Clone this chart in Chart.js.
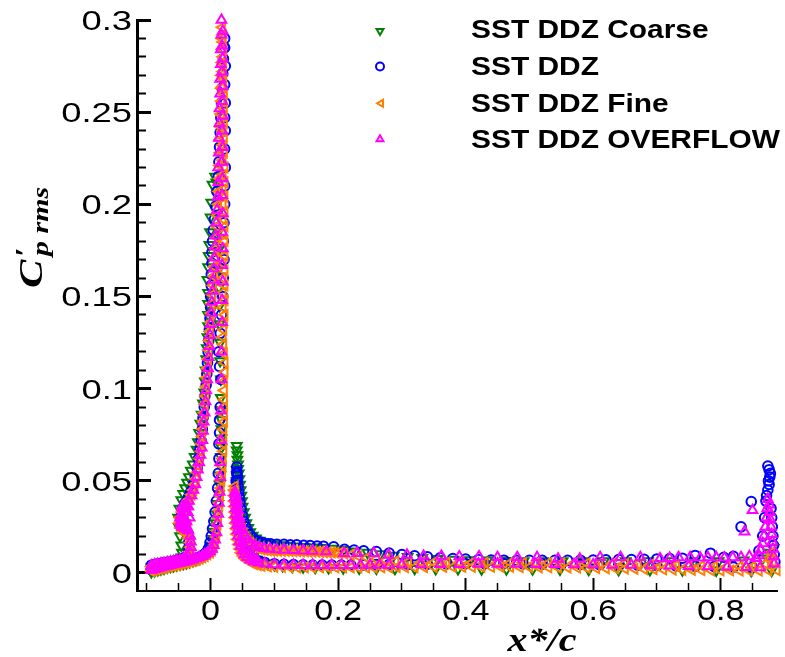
<!DOCTYPE html>
<html><head><meta charset="utf-8">
<script src="https://cdn.jsdelivr.net/npm/chart.js@4.4.1/dist/chart.umd.min.js"></script>
<style>html,body{margin:0;padding:0;background:#fff;}canvas{display:block;}</style>
</head><body>
<canvas id="c" width="785" height="657"></canvas>
<script>
// ---------------- DATA (x*/c , Cp' rms) ----------------
const seriesNames = ['SST DDZ Coarse', 'SST DDZ', 'SST DDZ Fine', 'SST DDZ OVERFLOW'];
const xTickLabels = ['0', '0.2', '0.4', '0.6', '0.8'];
const yTickLabels = ['0', '0.05', '0.1', '0.15', '0.2', '0.25', '0.3'];

// SST DDZ Coarse
const coarseSlatUpper = [[-0.093,0.0030],[-0.088,0.0035],[-0.083,0.0040],[-0.078,0.0044],[-0.073,0.0048],[-0.068,0.0052],[-0.063,0.0056],[-0.058,0.0060],[-0.053,0.0065],[-0.049,0.0072],[-0.046,0.0085],[-0.045,0.0110],[-0.046,0.0150],[-0.048,0.0200],[-0.050,0.0250],[-0.051,0.0300],[-0.049,0.0350],[-0.046,0.0395],[-0.043,0.0430],[-0.040,0.0460],[-0.037,0.0490],[-0.034,0.0520],[-0.031,0.0555],[-0.028,0.0590],[-0.025,0.0630],[-0.022,0.0670],[-0.020,0.0710],[-0.018,0.0760],[-0.016,0.0810],[-0.014,0.0860],[-0.012,0.0920],[-0.010,0.0980],[-0.009,0.1040],[-0.008,0.1100],[-0.007,0.1160],[-0.006,0.1220],[-0.005,0.1280],[-0.004,0.1340],[-0.004,0.1400],[-0.004,0.1460],[-0.004,0.1520],[-0.005,0.1590],[-0.004,0.1660],[-0.003,0.1720],[-0.002,0.1780],[-0.001,0.1850],[0.000,0.1930],[0.001,0.2010],[0.003,0.2107],[0.007,0.2150]];
const coarseSlatLower = [[-0.093,0.0005],[-0.088,0.0010],[-0.083,0.0015],[-0.078,0.0020],[-0.073,0.0025],[-0.068,0.0030],[-0.063,0.0034],[-0.058,0.0038],[-0.053,0.0042],[-0.048,0.0046],[-0.043,0.0050],[-0.038,0.0055],[-0.033,0.0060],[-0.028,0.0065],[-0.023,0.0071],[-0.018,0.0078],[-0.013,0.0086],[-0.009,0.0096],[-0.005,0.0108],[-0.002,0.0125],[0.001,0.0150],[0.004,0.0185],[0.006,0.0225],[0.008,0.0270],[0.010,0.0320],[0.012,0.0375],[0.013,0.0430],[0.014,0.0480],[0.015,0.0530],[0.016,0.0580],[0.016,0.0630],[0.017,0.0680],[0.017,0.0730],[0.017,0.0780],[0.017,0.0830],[0.017,0.0885],[0.016,0.0950],[0.016,0.1050],[0.015,0.1150],[0.015,0.1250],[0.014,0.1350],[0.014,0.1450],[0.013,0.1550],[0.013,0.1650],[0.012,0.1750],[0.012,0.1850],[0.011,0.1950],[0.010,0.2050],[0.009,0.2120]];
const coarseMainUpper = [[0.041,0.0690],[0.041,0.0665],[0.042,0.0640],[0.042,0.0615],[0.043,0.0590],[0.043,0.0565],[0.044,0.0540],[0.045,0.0510],[0.046,0.0480],[0.047,0.0450],[0.048,0.0420],[0.049,0.0390],[0.050,0.0360],[0.052,0.0330],[0.054,0.0300],[0.056,0.0270],[0.059,0.0245],[0.062,0.0222],[0.066,0.0203],[0.071,0.0188],[0.077,0.0176],[0.084,0.0167],[0.092,0.0160],[0.101,0.0155],[0.111,0.0151],[0.122,0.0148],[0.134,0.0145],[0.147,0.0142],[0.161,0.0139],[0.176,0.0136],[0.192,0.0132],[0.209,0.0126],[0.227,0.0118],[0.246,0.0110],[0.266,0.0102],[0.287,0.0095],[0.309,0.0088],[0.332,0.0082],[0.356,0.0077],[0.381,0.0073],[0.407,0.0070],[0.434,0.0068],[0.462,0.0066],[0.491,0.0065],[0.521,0.0064],[0.552,0.0064],[0.584,0.0064],[0.617,0.0064],[0.651,0.0064],[0.686,0.0064],[0.722,0.0064],[0.759,0.0064],[0.797,0.0065],[0.836,0.0068],[0.866,0.0080],[0.878,0.0110],[0.883,0.0136]];
const coarseMainLower = [[0.041,0.0560],[0.041,0.0530],[0.041,0.0500],[0.041,0.0470],[0.042,0.0440],[0.042,0.0410],[0.043,0.0380],[0.043,0.0350],[0.044,0.0320],[0.045,0.0290],[0.046,0.0260],[0.048,0.0230],[0.050,0.0200],[0.052,0.0172],[0.055,0.0146],[0.058,0.0124],[0.062,0.0104],[0.067,0.0087],[0.073,0.0072],[0.080,0.0060],[0.089,0.0050],[0.100,0.0043],[0.113,0.0038],[0.128,0.0034],[0.145,0.0031],[0.164,0.0029],[0.185,0.0027],[0.208,0.0026],[0.233,0.0025],[0.260,0.0024],[0.289,0.0023],[0.320,0.0023],[0.353,0.0022],[0.388,0.0022],[0.425,0.0021],[0.464,0.0021],[0.505,0.0020],[0.548,0.0019],[0.593,0.0018],[0.640,0.0017],[0.689,0.0016],[0.740,0.0015],[0.793,0.0014],[0.848,0.0013],[0.880,0.0013]];

// SST DDZ
const ddzSlatUpper = [[-0.093,0.0042],[-0.088,0.0046],[-0.083,0.0049],[-0.078,0.0052],[-0.073,0.0055],[-0.068,0.0058],[-0.063,0.0061],[-0.058,0.0064],[-0.053,0.0068],[-0.048,0.0073],[-0.043,0.0079],[-0.039,0.0086],[-0.036,0.0100],[-0.034,0.0130],[-0.034,0.0170],[-0.036,0.0210],[-0.040,0.0240],[-0.044,0.0270],[-0.046,0.0310],[-0.044,0.0350],[-0.040,0.0380],[-0.035,0.0410],[-0.031,0.0440],[-0.027,0.0480],[-0.024,0.0520],[-0.021,0.0570],[-0.019,0.0620],[-0.017,0.0670],[-0.015,0.0720],[-0.013,0.0780],[-0.012,0.0840],[-0.010,0.0900],[-0.009,0.0960],[-0.007,0.1020],[-0.006,0.1080],[-0.005,0.1140],[-0.004,0.1200],[-0.003,0.1260],[-0.002,0.1320],[-0.001,0.1380],[0.000,0.1440],[0.000,0.1500],[0.001,0.1560],[0.001,0.1620],[0.002,0.1680],[0.002,0.1740],[0.003,0.1800],[0.004,0.1860],[0.006,0.1920],[0.008,0.1990],[0.010,0.2070],[0.012,0.2150],[0.013,0.2230],[0.014,0.2310],[0.015,0.2390],[0.016,0.2470],[0.017,0.2550],[0.018,0.2630],[0.019,0.2710],[0.020,0.2790],[0.021,0.2850],[0.022,0.2900]];
const ddzSlatLower = [[-0.093,0.0018],[-0.088,0.0022],[-0.083,0.0026],[-0.078,0.0030],[-0.073,0.0034],[-0.068,0.0038],[-0.063,0.0042],[-0.058,0.0046],[-0.053,0.0050],[-0.048,0.0054],[-0.043,0.0058],[-0.038,0.0063],[-0.033,0.0068],[-0.028,0.0073],[-0.023,0.0079],[-0.018,0.0086],[-0.013,0.0094],[-0.009,0.0104],[-0.006,0.0116],[-0.003,0.0135],[-0.001,0.0165],[0.001,0.0200],[0.003,0.0240],[0.005,0.0280],[0.007,0.0330],[0.009,0.0390],[0.011,0.0460],[0.012,0.0540],[0.013,0.0620],[0.013,0.0700],[0.014,0.0760],[0.014,0.0830],[0.015,0.0900],[0.016,0.1050],[0.014,0.1120],[0.013,0.1200],[0.015,0.1300],[0.017,0.1400],[0.019,0.1500],[0.020,0.1600],[0.021,0.1700],[0.020,0.1800],[0.021,0.1900],[0.022,0.2000],[0.022,0.2100],[0.023,0.2200],[0.022,0.2300],[0.023,0.2400],[0.022,0.2470],[0.023,0.2550],[0.022,0.2650],[0.023,0.2750],[0.022,0.2850]];
const ddzMainUpper = [[0.041,0.0575],[0.041,0.0550],[0.042,0.0525],[0.042,0.0500],[0.043,0.0470],[0.044,0.0440],[0.045,0.0410],[0.046,0.0380],[0.048,0.0345],[0.050,0.0310],[0.052,0.0280],[0.055,0.0250],[0.058,0.0225],[0.062,0.0205],[0.067,0.0188],[0.073,0.0175],[0.080,0.0166],[0.087,0.0160],[0.094,0.0158],[0.104,0.0156],[0.115,0.0155],[0.125,0.0153],[0.135,0.0152],[0.146,0.0150],[0.156,0.0148],[0.167,0.0146],[0.177,0.0145],[0.193,0.0142],[0.210,0.0128],[0.225,0.0124],[0.240,0.0120],[0.260,0.0116],[0.280,0.0108],[0.300,0.0100],[0.320,0.0093],[0.340,0.0087],[0.360,0.0082],[0.380,0.0078],[0.400,0.0075],[0.420,0.0072],[0.440,0.0070],[0.460,0.0069],[0.480,0.0068],[0.500,0.0068],[0.520,0.0068],[0.540,0.0068],[0.560,0.0068],[0.580,0.0069],[0.600,0.0070],[0.620,0.0071],[0.640,0.0072],[0.660,0.0073],[0.680,0.0074],[0.700,0.0076],[0.720,0.0078],[0.740,0.0080],[0.760,0.0095],[0.784,0.0107],[0.805,0.0085],[0.820,0.0090],[0.832,0.0250],[0.848,0.0387],[0.860,0.0120],[0.866,0.0200],[0.869,0.0300],[0.871,0.0390],[0.872,0.0420],[0.874,0.0450],[0.876,0.0480],[0.875,0.0500],[0.877,0.0520],[0.878,0.0540],[0.876,0.0560],[0.874,0.0580],[0.879,0.0350],[0.880,0.0300],[0.881,0.0250],[0.882,0.0200],[0.883,0.0150],[0.884,0.0100],[0.885,0.0060]];
const ddzMainLower = [[0.041,0.0540],[0.040,0.0500],[0.040,0.0460],[0.040,0.0420],[0.041,0.0380],[0.041,0.0340],[0.042,0.0300],[0.043,0.0265],[0.044,0.0230],[0.046,0.0195],[0.048,0.0165],[0.051,0.0140],[0.054,0.0120],[0.058,0.0100],[0.063,0.0085],[0.069,0.0073],[0.076,0.0064],[0.085,0.0057],[0.100,0.0050],[0.115,0.0047],[0.130,0.0045],[0.145,0.0044],[0.160,0.0043],[0.175,0.0043],[0.190,0.0043],[0.205,0.0043],[0.220,0.0043],[0.240,0.0044],[0.260,0.0045],[0.280,0.0046],[0.310,0.0047],[0.340,0.0048],[0.370,0.0049],[0.400,0.0050],[0.430,0.0050],[0.460,0.0050],[0.490,0.0049],[0.520,0.0048],[0.550,0.0047],[0.580,0.0046],[0.610,0.0045],[0.640,0.0044],[0.670,0.0042],[0.700,0.0040],[0.730,0.0038],[0.760,0.0036],[0.790,0.0034],[0.820,0.0032],[0.850,0.0030]];

// SST DDZ Fine
const fineSlatUpper = [[-0.093,0.0035],[-0.089,0.0038],[-0.085,0.0041],[-0.081,0.0044],[-0.077,0.0047],[-0.073,0.0050],[-0.069,0.0053],[-0.065,0.0056],[-0.061,0.0059],[-0.057,0.0062],[-0.053,0.0066],[-0.049,0.0070],[-0.045,0.0075],[-0.041,0.0080],[-0.037,0.0086],[-0.034,0.0095],[-0.032,0.0115],[-0.031,0.0140],[-0.032,0.0165],[-0.034,0.0190],[-0.038,0.0210],[-0.043,0.0225],[-0.047,0.0245],[-0.049,0.0270],[-0.048,0.0300],[-0.045,0.0330],[-0.041,0.0355],[-0.037,0.0375],[-0.044,0.0280],[-0.040,0.0300],[-0.036,0.0260],[-0.033,0.0400],[-0.030,0.0425],[-0.027,0.0450],[-0.025,0.0480],[-0.023,0.0510],[-0.021,0.0545],[-0.019,0.0580],[-0.017,0.0620],[-0.015,0.0660],[-0.014,0.0700],[-0.013,0.0740],[-0.012,0.0780],[-0.011,0.0825],[-0.010,0.0870],[-0.009,0.0915],[-0.008,0.0960],[-0.007,0.1010],[-0.006,0.1060],[-0.005,0.1110],[-0.004,0.1160],[-0.003,0.1210],[-0.002,0.1260],[-0.001,0.1310],[0.000,0.1360],[0.001,0.1410],[0.002,0.1460],[0.003,0.1510],[0.004,0.1560],[0.005,0.1610],[0.006,0.1660],[0.007,0.1710],[0.008,0.1760],[0.009,0.1820],[0.010,0.1880],[0.011,0.1940],[0.012,0.2000],[0.013,0.2070],[0.014,0.2140],[0.014,0.2210],[0.015,0.2280],[0.015,0.2350],[0.016,0.2420],[0.016,0.2490],[0.017,0.2560],[0.017,0.2630],[0.017,0.2700],[0.018,0.2770],[0.018,0.2840],[0.018,0.2900],[0.018,0.2960]];
const fineSlatLower = [[-0.093,0.0010],[-0.089,0.0014],[-0.085,0.0018],[-0.081,0.0022],[-0.077,0.0026],[-0.073,0.0030],[-0.069,0.0033],[-0.065,0.0036],[-0.061,0.0039],[-0.057,0.0042],[-0.053,0.0045],[-0.049,0.0048],[-0.045,0.0051],[-0.041,0.0054],[-0.037,0.0057],[-0.033,0.0061],[-0.029,0.0065],[-0.025,0.0069],[-0.021,0.0073],[-0.017,0.0078],[-0.013,0.0084],[-0.009,0.0091],[-0.005,0.0100],[-0.001,0.0110],[0.002,0.0122],[0.005,0.0140],[0.007,0.0165],[0.009,0.0195],[0.010,0.0230],[0.011,0.0265],[0.012,0.0300],[0.013,0.0340],[0.014,0.0380],[0.015,0.0420],[0.016,0.0460],[0.017,0.0500],[0.018,0.0540],[0.019,0.0580],[0.019,0.0620],[0.020,0.0660],[0.020,0.0700],[0.020,0.0740],[0.020,0.0780],[0.021,0.0820],[0.021,0.0860],[0.021,0.0900],[0.021,0.0940],[0.021,0.0990],[0.021,0.1040],[0.022,0.1090],[0.022,0.1140],[0.021,0.1190],[0.020,0.1240],[0.019,0.1280],[0.020,0.1320],[0.021,0.1360],[0.022,0.1400],[0.019,0.1440],[0.022,0.1480],[0.019,0.1520],[0.022,0.1560],[0.019,0.1600],[0.022,0.1640],[0.019,0.1680],[0.022,0.1720],[0.019,0.1760],[0.022,0.1800],[0.019,0.1840],[0.022,0.1880],[0.019,0.1920],[0.022,0.1960],[0.019,0.2000],[0.022,0.2040],[0.019,0.2080],[0.022,0.2120],[0.019,0.2160],[0.022,0.2200],[0.019,0.2240],[0.021,0.2280],[0.019,0.2320],[0.021,0.2360],[0.019,0.2400],[0.021,0.2440],[0.019,0.2480],[0.021,0.2520],[0.019,0.2560],[0.021,0.2600],[0.019,0.2640],[0.020,0.2680],[0.019,0.2720],[0.020,0.2760],[0.019,0.2800],[0.020,0.2840],[0.019,0.2880],[0.019,0.2920]];
const fineMainUpper = [[0.038,0.0470],[0.039,0.0440],[0.040,0.0410],[0.041,0.0380],[0.042,0.0350],[0.043,0.0320],[0.045,0.0290],[0.047,0.0262],[0.049,0.0238],[0.052,0.0215],[0.055,0.0195],[0.058,0.0178],[0.062,0.0163],[0.066,0.0150],[0.070,0.0140],[0.075,0.0133],[0.080,0.0128],[0.085,0.0125],[0.090,0.0123],[0.095,0.0122],[0.100,0.0121],[0.106,0.0120],[0.112,0.0120],[0.118,0.0119],[0.124,0.0119],[0.130,0.0118],[0.136,0.0118],[0.142,0.0117],[0.148,0.0117],[0.154,0.0116],[0.160,0.0116],[0.166,0.0115],[0.172,0.0114],[0.178,0.0113],[0.184,0.0112],[0.190,0.0111],[0.196,0.0110],[0.202,0.0108],[0.210,0.0104],[0.220,0.0098],[0.232,0.0090],[0.245,0.0082],[0.260,0.0075],[0.275,0.0069],[0.290,0.0064],[0.310,0.0060],[0.330,0.0058],[0.350,0.0057],[0.370,0.0056],[0.390,0.0056],[0.410,0.0056],[0.430,0.0056],[0.450,0.0055],[0.470,0.0055],[0.490,0.0055],[0.510,0.0054],[0.530,0.0054],[0.550,0.0053],[0.570,0.0053],[0.590,0.0052],[0.610,0.0052],[0.630,0.0051],[0.650,0.0050],[0.670,0.0048],[0.690,0.0046],[0.710,0.0044],[0.730,0.0042],[0.750,0.0040],[0.770,0.0038],[0.790,0.0036],[0.810,0.0035],[0.830,0.0034],[0.850,0.0034],[0.870,0.0050],[0.876,0.0080],[0.879,0.0110],[0.882,0.0060]];
const fineMainLower = [[0.037,0.0450],[0.037,0.0420],[0.037,0.0390],[0.0375,0.0360],[0.038,0.0330],[0.0385,0.0300],[0.039,0.0270],[0.040,0.0240],[0.041,0.0210],[0.042,0.0182],[0.044,0.0155],[0.046,0.0130],[0.048,0.0110],[0.051,0.0092],[0.054,0.0078],[0.058,0.0066],[0.063,0.0056],[0.068,0.0048],[0.074,0.0042],[0.080,0.0038],[0.090,0.0035],[0.100,0.0033],[0.112,0.0032],[0.124,0.0031],[0.136,0.0030],[0.148,0.0030],[0.160,0.0030],[0.172,0.0030],[0.184,0.0030],[0.196,0.0030],[0.208,0.0030],[0.220,0.0030],[0.232,0.0030],[0.244,0.0030],[0.256,0.0030],[0.268,0.0030],[0.280,0.0030],[0.292,0.0031],[0.305,0.0031],[0.320,0.0031],[0.335,0.0031],[0.350,0.0032],[0.365,0.0032],[0.380,0.0032],[0.395,0.0032],[0.410,0.0032],[0.425,0.0032],[0.440,0.0032],[0.455,0.0032],[0.470,0.0032],[0.485,0.0031],[0.500,0.0031],[0.515,0.0030],[0.530,0.0030],[0.545,0.0029],[0.560,0.0029],[0.575,0.0028],[0.590,0.0027],[0.605,0.0026],[0.620,0.0025],[0.635,0.0024],[0.650,0.0023],[0.665,0.0022],[0.680,0.0021],[0.695,0.0020],[0.710,0.0019],[0.725,0.0018],[0.740,0.0017],[0.755,0.0016],[0.770,0.0015],[0.785,0.0014],[0.800,0.0013],[0.815,0.0013],[0.830,0.0012],[0.845,0.0012],[0.860,0.0012],[0.875,0.0013],[0.888,0.0015]];

// SST DDZ OVERFLOW
const overflowSlatUpper = [[-0.093,0.0040],[-0.088,0.0045],[-0.083,0.0048],[-0.078,0.0051],[-0.073,0.0054],[-0.068,0.0057],[-0.063,0.0060],[-0.058,0.0063],[-0.053,0.0067],[-0.048,0.0071],[-0.043,0.0076],[-0.039,0.0082],[-0.035,0.0090],[-0.032,0.0110],[-0.031,0.0140],[-0.031,0.0170],[-0.032,0.0200],[-0.035,0.0230],[-0.040,0.0240],[-0.045,0.0250],[-0.047,0.0280],[-0.046,0.0320],[-0.043,0.0350],[-0.039,0.0370],[-0.042,0.0300],[-0.038,0.0280],[-0.036,0.0330],[-0.044,0.0270],[-0.041,0.0330],[-0.038,0.0250],[-0.044,0.0310],[-0.040,0.0290],[-0.047,0.0260],[-0.045,0.0360],[-0.035,0.0360],[-0.033,0.0300],[-0.036,0.0240],[-0.048,0.0300],[-0.034,0.0390],[-0.030,0.0420],[-0.027,0.0450],[-0.024,0.0480],[-0.022,0.0520],[-0.020,0.0560],[-0.018,0.0600],[-0.016,0.0640],[-0.014,0.0680],[-0.013,0.0720],[-0.012,0.0770],[-0.011,0.0820],[-0.0095,0.0870],[-0.008,0.0930],[-0.007,0.0990],[-0.0055,0.1050],[-0.004,0.1110],[-0.003,0.1170],[-0.002,0.1230],[-0.001,0.1290],[0.000,0.1350],[0.001,0.1410],[0.002,0.1470],[0.003,0.1530],[0.004,0.1590],[0.005,0.1650],[0.006,0.1710],[0.007,0.1770],[0.008,0.1830],[0.009,0.1900],[0.010,0.1970],[0.011,0.2040],[0.012,0.2120],[0.012,0.2200],[0.013,0.2280],[0.013,0.2360],[0.014,0.2440],[0.014,0.2520],[0.015,0.2600],[0.015,0.2680],[0.016,0.2760],[0.016,0.2840],[0.017,0.2920],[0.017,0.3000]];
const overflowSlatLower = [[-0.093,0.0015],[-0.088,0.0020],[-0.083,0.0025],[-0.078,0.0030],[-0.073,0.0034],[-0.068,0.0038],[-0.063,0.0042],[-0.058,0.0046],[-0.053,0.0050],[-0.048,0.0054],[-0.043,0.0058],[-0.038,0.0062],[-0.033,0.0067],[-0.028,0.0072],[-0.023,0.0078],[-0.018,0.0084],[-0.013,0.0091],[-0.009,0.0099],[-0.005,0.0108],[-0.001,0.0118],[0.002,0.0130],[0.005,0.0150],[0.007,0.0180],[0.009,0.0220],[0.0105,0.0270],[0.012,0.0320],[0.013,0.0380],[0.014,0.0440],[0.015,0.0520],[0.015,0.0600],[0.016,0.0720],[0.016,0.0880],[0.017,0.1050],[0.017,0.1200],[0.018,0.1360],[0.018,0.1480],[0.019,0.1580],[0.018,0.1670],[0.019,0.1760],[0.018,0.1850],[0.019,0.1950],[0.018,0.2050],[0.019,0.2140],[0.018,0.2230],[0.019,0.2310],[0.018,0.2400],[0.019,0.2480],[0.018,0.2560],[0.019,0.2640],[0.018,0.2720],[0.019,0.2790],[0.018,0.2860],[0.019,0.2940]];
const overflowMainUpper = [[0.039,0.0430],[0.041,0.0385],[0.043,0.0340],[0.045,0.0300],[0.047,0.0265],[0.050,0.0232],[0.054,0.0202],[0.058,0.0180],[0.063,0.0162],[0.069,0.0149],[0.076,0.0140],[0.084,0.0134],[0.093,0.0130],[0.103,0.0127],[0.115,0.0125],[0.130,0.0123],[0.145,0.0121],[0.160,0.0119],[0.181,0.0116],[0.2095,0.0107],[0.230,0.0107],[0.256,0.0107],[0.279,0.0098],[0.308,0.0098],[0.334,0.0092],[0.362,0.0092],[0.390,0.0089],[0.421,0.0089],[0.450,0.0085],[0.481,0.0085],[0.512,0.0085],[0.545,0.0076],[0.579,0.0076],[0.611,0.0085],[0.643,0.0085],[0.674,0.0085],[0.705,0.0078],[0.720,0.0080],[0.734,0.0084],[0.752,0.0084],[0.768,0.0082],[0.780,0.0084],[0.793,0.0084],[0.806,0.0082],[0.819,0.0084],[0.832,0.0084],[0.8375,0.0224],[0.850,0.0340],[0.845,0.0090],[0.855,0.0080],[0.860,0.0095],[0.863,0.0125],[0.866,0.0160],[0.868,0.0200],[0.870,0.0250],[0.872,0.0300],[0.873,0.0350],[0.874,0.0400],[0.876,0.0370],[0.877,0.0330],[0.878,0.0290],[0.879,0.0250],[0.880,0.0210],[0.881,0.0170],[0.882,0.0130],[0.883,0.0090],[0.884,0.0050]];
const overflowMainLower = [[0.038,0.0440],[0.038,0.0410],[0.0385,0.0380],[0.039,0.0350],[0.039,0.0320],[0.040,0.0290],[0.041,0.0260],[0.042,0.0230],[0.043,0.0200],[0.045,0.0170],[0.047,0.0145],[0.050,0.0120],[0.053,0.0100],[0.057,0.0085],[0.062,0.0072],[0.068,0.0063],[0.075,0.0056],[0.041,0.0400],[0.042,0.0360],[0.043,0.0310],[0.044,0.0270],[0.046,0.0230],[0.048,0.0190],[0.051,0.0160],[0.055,0.0130],[0.060,0.0105],[0.066,0.0088],[0.072,0.0075],[0.085,0.0050],[0.100,0.0046],[0.115,0.0044],[0.130,0.0043],[0.145,0.0042],[0.160,0.0042],[0.175,0.0042],[0.190,0.0042],[0.205,0.0042],[0.220,0.0042],[0.235,0.0043],[0.250,0.0043],[0.265,0.0044],[0.280,0.0044],[0.300,0.0045],[0.330,0.0046],[0.360,0.0047],[0.390,0.0048],[0.420,0.0049],[0.450,0.0049],[0.480,0.0049],[0.510,0.0048],[0.540,0.0047],[0.570,0.0046],[0.600,0.0045],[0.630,0.0044],[0.660,0.0043],[0.690,0.0041],[0.720,0.0039],[0.750,0.0037],[0.780,0.0035],[0.810,0.0033],[0.840,0.0031],[0.862,0.0030]];

// ---------------- CHART ----------------
const toXY = arrs => arrs.flat().map(p => ({x: p[0], y: p[1]}));
const seriesData = [
  toXY([coarseSlatUpper, coarseSlatLower, coarseMainUpper, coarseMainLower]),
  toXY([ddzSlatUpper, ddzSlatLower, ddzMainUpper, ddzMainLower]),
  toXY([fineSlatUpper, fineSlatLower, fineMainUpper, fineMainLower]),
  toXY([overflowSlatUpper, overflowSlatLower, overflowMainUpper, overflowMainLower])
];
const colors = ['#008000', '#0000ff', '#ff8000', '#ff00ff'];
const styles = ['triangle', 'circle', 'triangle', 'triangle'];
const rotations = [180, 0, 270, 0];
const radii = [5.6, 4.8, 5.6, 5.6];
const drawOrder = [4, 3, 2, 1];

const xMajor = xTickLabels.map(Number);
const yMajor = yTickLabels.map(Number);
const isMajor = (list, v) => list.some(m => Math.abs(m - v) < 1e-9);

function stretchText(ctx, s, x, y, k, align) {
  ctx.save();
  ctx.translate(x, y);
  ctx.scale(k, 1);
  ctx.textAlign = align;
  ctx.fillText(s, 0, 0);
  ctx.restore();
}

const textPlugin = {
  id: 'textPlugin',
  afterDraw(chart) {
    const ctx = chart.ctx;
    const xs = chart.scales.x, ys = chart.scales.y;
    ctx.save();
    ctx.fillStyle = '#000';
    ctx.textBaseline = 'alphabetic';
    // y tick labels
    ctx.font = '28px "Liberation Sans", Arial, sans-serif';
    yTickLabels.forEach(l => {
      const py = ys.getPixelForValue(Number(l));
      stretchText(ctx, l, ys.right - 5, py + 10, 1.3, 'right');
    });
    // x tick labels
    ctx.font = '30px "Liberation Sans", Arial, sans-serif';
    xTickLabels.forEach(l => {
      const px = xs.getPixelForValue(Number(l));
      stretchText(ctx, l, px, 620, 1.14, 'center');
    });
    // x title
    ctx.font = 'italic bold 34px "Liberation Serif", "Times New Roman", serif';
    stretchText(ctx, 'x*/c', 542, 651, 1.18, 'center');
    // y title (rotated)
    ctx.save();
    ctx.translate(42, 288);
    ctx.rotate(-Math.PI / 2);
    ctx.scale(1.25, 1);
    ctx.textAlign = 'left';
    ctx.font = 'italic bold 34px "Liberation Serif", "Times New Roman", serif';
    ctx.fillText('C', 0, 0);
    const wC = ctx.measureText('C').width;
    ctx.font = 'italic bold 28px "Liberation Serif", "Times New Roman", serif';
    ctx.fillText('\u2032', wC + 2, -8);
    ctx.font = 'italic bold 24px "Liberation Serif", "Times New Roman", serif';
    ctx.fillText('p rms', wC + 3, 6);
    ctx.restore();
    // legend
    const markX = 380;
    const markY = [31, 66.5, 103.3, 139.3];
    const baseY = [38.3, 75, 111.7, 148.3];
    chart.data.datasets.forEach((ds, i) => {
      ctx.save();
      ctx.strokeStyle = ds.pointBorderColor;
      ctx.fillStyle = 'rgba(0,0,0,0)';
      ctx.lineWidth = 2;
      Chart.helpers.drawPoint(ctx, {pointStyle: ds.pointStyle, rotation: ds.pointRotation, radius: 4, borderWidth: 2}, markX + (i === 2 ? 1 : 0), markY[i]);
      ctx.restore();
      ctx.font = 'bold 26px "Liberation Sans", Arial, sans-serif';
      ctx.fillStyle = '#000';
      stretchText(ctx, ds.label, 471, baseY[i], 1.15, 'left');
    });
    ctx.restore();
  }
};

new Chart(document.getElementById('c'), {
  type: 'scatter',
  data: {
    datasets: seriesNames.map((name, i) => ({
      label: name,
      data: seriesData[i],
      order: drawOrder[i],
      pointStyle: styles[i],
      pointRotation: rotations[i],
      pointRadius: radii[i],
      pointHoverRadius: radii[i],
      pointBorderWidth: 2,
      pointBorderColor: colors[i],
      pointBackgroundColor: 'rgba(0,0,0,0)',
      showLine: false,
      clip: false
    }))
  },
  options: {
    responsive: false,
    animation: false,
    devicePixelRatio: 1,
    events: [],
    layout: {padding: {top: 20, right: 0, bottom: 0, left: 0}},
    plugins: {legend: {display: false}, tooltip: {enabled: false}, title: {display: false}},
    scales: {
      x: {
        type: 'linear', position: 'bottom', min: -0.1155, max: 0.889,
        afterFit: s => { s.height = 66; },
        border: {display: true, color: '#000', width: 2},
        grid: {
          display: true, drawOnChartArea: false, drawTicks: true, tickLength: -13,
          tickColor: '#000',
          tickWidth: c => isMajor(xMajor, c.tick.value) ? 2 : 1.5,
          tickBorderDash: c => isMajor(xMajor, c.tick.value) ? [] : [9, 100]
        },
        ticks: {display: false, stepSize: 0.05, autoSkip: false, includeBounds: false}
      },
      y: {
        type: 'linear', position: 'left', min: -0.0098, max: 0.3,
        afterFit: s => { s.width = 137; },
        border: {display: true, color: '#000', width: 3},
        grid: {
          display: true, drawOnChartArea: false, drawTicks: true, tickLength: -14,
          tickColor: '#000',
          tickWidth: c => isMajor(yMajor, c.tick.value) ? 3 : 2,
          tickBorderDash: c => isMajor(yMajor, c.tick.value) ? [] : [0, 5, 12, 100]
        },
        ticks: {display: false, stepSize: 0.01, autoSkip: false, includeBounds: false}
      }
    }
  },
  plugins: [textPlugin]
});
</script>
</body></html>
